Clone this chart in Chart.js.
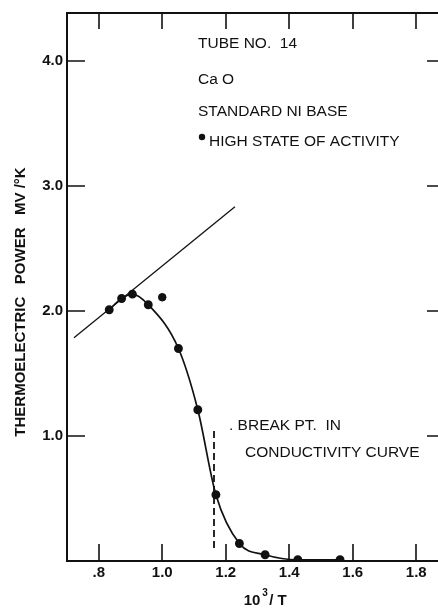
<!DOCTYPE html>
<html>
<head>
<meta charset="utf-8">
<script src="https://cdn.jsdelivr.net/npm/chart.js@4.4.0/dist/chart.umd.min.js"></script>
<style>
  html, body { margin: 0; padding: 0; background: #fff; }
  #wrap { width: 438px; height: 609px; }
</style>
</head>
<body>
<div id="wrap"><canvas id="chart"></canvas></div>
<script>
// measured points on the smooth curve
const curveX = [0.833, 0.872, 0.906, 0.956, 1.051, 1.112, 1.169, 1.243, 1.324, 1.427, 1.56]
const curveY = [2.01, 2.10, 2.135, 2.05, 1.70, 1.21, 0.53, 0.14, 0.05, 0.01, 0.01]
// stray point off the curve
const extraX = [1.0]
const extraY = [2.11]
// straight reference line
const lineX = [0.722, 1.229]
const lineY = [1.786, 2.834]
// dashed break point marker
const breakX = [1.163, 1.163]
const breakY = [1.04, 0.10]

const xTicks = [0.8, 1.0, 1.2, 1.4, 1.6, 1.8]
const xTickLabels = ['.8', '1.0', '1.2', '1.4', '1.6', '1.8']
const yTicks = [1, 2, 3, 4]
const yTickLabels = ['1.0', '2.0', '3.0', '4.0']

const toPoints = (xs, ys) => xs.map((x, i) => ({ x: x, y: ys[i] }))

const FONT = '"Liberation Sans", Arial, sans-serif'

// frame, inward ticks and the hand lettering
const framePlugin = {
  id: 'frame',
  afterDraw(chart) {
    const ctx = chart.ctx
    const a = chart.chartArea
    const xs = chart.scales.x
    const ys = chart.scales.y
    ctx.save()
    ctx.strokeStyle = '#111'
    ctx.lineWidth = 2
    ctx.beginPath()
    ctx.moveTo(a.right, a.top)
    ctx.lineTo(a.left, a.top)
    ctx.lineTo(a.left, a.bottom)
    ctx.lineTo(a.right, a.bottom)
    ctx.stroke()

    ctx.lineWidth = 1.6
    ctx.beginPath()
    xTicks.forEach(v => {
      const px = Math.round(xs.getPixelForValue(v))
      ctx.moveTo(px, a.bottom)
      ctx.lineTo(px, a.bottom - 17)
      ctx.moveTo(px, a.top)
      ctx.lineTo(px, a.top + 16)
    })
    yTicks.forEach(v => {
      const py = Math.round(ys.getPixelForValue(v))
      ctx.moveTo(a.left, py)
      ctx.lineTo(a.left + 18, py)
      ctx.moveTo(a.right, py)
      ctx.lineTo(a.right - 11, py)
    })
    ctx.stroke()

    ctx.fillStyle = '#111'
    ctx.textBaseline = 'middle'
    ctx.textAlign = 'left'
    ctx.font = '15.5px ' + FONT
    ctx.fillText('TUBE NO.  14', 198, 44)
    ctx.fillText('Ca O', 198, 80)
    ctx.fillText('STANDARD NI BASE', 198, 112)
    ctx.fillText('HIGH STATE OF ACTIVITY', 209, 142)
    ctx.beginPath()
    ctx.arc(202, 137, 3.2, 0, Math.PI * 2)
    ctx.fill()
    ctx.fillText('. BREAK PT.  IN', 229, 426)
    ctx.fillText('CONDUCTIVITY CURVE', 245, 453)

    // axis titles
    ctx.font = 'bold 15px ' + FONT
    ctx.textAlign = 'center'
    ctx.fillText('10', 252, 601)
    ctx.font = 'bold 10px ' + FONT
    ctx.fillText('3', 265, 593)
    ctx.font = 'bold 15px ' + FONT
    ctx.fillText('/ T', 278, 601)

    ctx.translate(21, 302)
    ctx.rotate(-Math.PI / 2)
    ctx.fillText('THERMOELECTRIC   POWER   MV /°K', 0, 0)
    ctx.restore()
  }
}

new Chart(document.getElementById('chart'), {
  type: 'scatter',
  data: {
    datasets: [
      {
        label: 'reference line',
        data: toPoints(lineX, lineY),
        showLine: true,
        borderColor: '#111',
        borderWidth: 1.3,
        pointRadius: 0,
      },
      {
        label: 'break point',
        data: toPoints(breakX, breakY),
        showLine: true,
        borderColor: '#111',
        borderWidth: 1.8,
        borderDash: [7, 4],
        pointRadius: 0,
      },
      {
        label: 'thermoelectric power',
        data: toPoints(curveX, curveY),
        showLine: true,
        cubicInterpolationMode: 'monotone',
        borderColor: '#111',
        borderWidth: 1.7,
        pointRadius: 3.6,
        pointBackgroundColor: '#111',
        pointBorderColor: '#111',
      },
      {
        label: 'high state of activity',
        data: toPoints(extraX, extraY),
        pointRadius: 3.8,
        pointBackgroundColor: '#111',
        pointBorderColor: '#111',
      },
    ]
  },
  options: {
    responsive: true,
    maintainAspectRatio: false,
    animation: false,
    layout: { autoPadding: false, padding: { top: 13, right: 0, left: 0, bottom: 0 } },
    plugins: {
      legend: { display: false },
      tooltip: { enabled: false },
    },
    scales: {
      x: {
        type: 'linear',
        min: 0.7,
        max: 1.8685,
        grid: { display: false, drawTicks: false },
        border: { display: false },
        afterBuildTicks: scale => { scale.ticks = xTicks.map(v => ({ value: v })) },
        afterFit: scale => { scale.height = 48 },
        ticks: {
          padding: 3,
          color: '#111',
          font: { family: FONT, size: 15, weight: 'bold' },
          callback: (value, index) => xTickLabels[index],
        }
      },
      y: {
        type: 'linear',
        min: 0,
        max: 4.384,
        grid: { display: false, drawTicks: false },
        border: { display: false },
        afterBuildTicks: scale => { scale.ticks = yTicks.map(v => ({ value: v })) },
        afterFit: scale => { scale.width = 67 },
        ticks: {
          padding: 4,
          color: '#111',
          font: { family: FONT, size: 15, weight: 'bold' },
          callback: (value, index) => yTickLabels[index],
        }
      }
    }
  },
  plugins: [framePlugin]
})
</script>
</body>
</html>
